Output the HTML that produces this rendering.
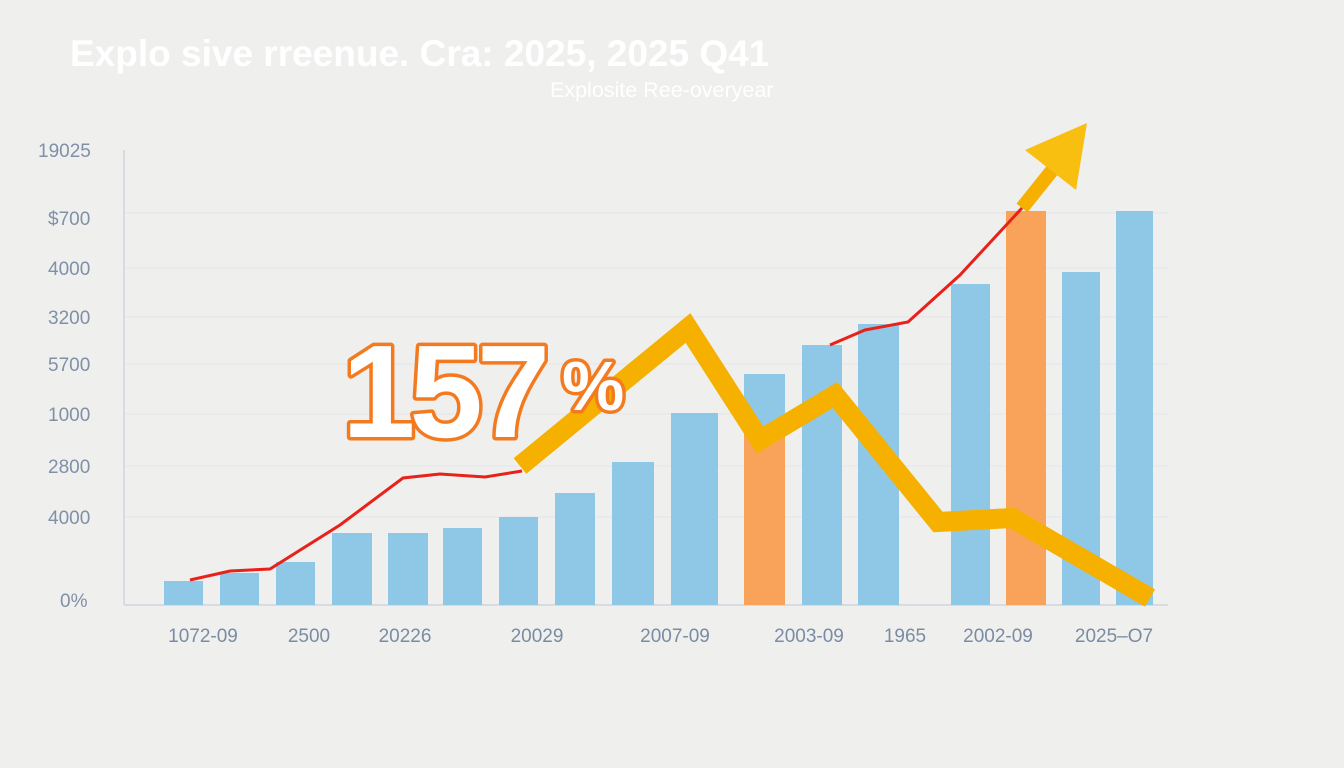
<!DOCTYPE html>
<html><head><meta charset="utf-8"><style>
html,body{margin:0;padding:0;background:#efefee;}
svg{display:block;font-family:"Liberation Sans",sans-serif;}
</style></head><body>
<svg width="1344" height="768" viewBox="0 0 1344 768">
<rect width="1344" height="768" fill="#efefee"/>
<text x="70" y="66" font-size="37" font-weight="bold" fill="#ffffff">Explo sive rreenue. Cra: 2025, 2025 Q41</text>
<text x="550" y="97" font-size="21.5" fill="#ffffff">Explosite Ree-overyear</text>
<g stroke="#e4e6ea" stroke-width="1">
<line x1="124" y1="213" x2="1168" y2="213"/><line x1="124" y1="268" x2="1168" y2="268"/>
<line x1="124" y1="317" x2="1168" y2="317"/><line x1="124" y1="364" x2="1168" y2="364"/>
<line x1="124" y1="414" x2="1168" y2="414"/><line x1="124" y1="466" x2="1168" y2="466"/>
<line x1="124" y1="517" x2="1168" y2="517"/>
</g>
<line x1="124" y1="150" x2="124" y2="605" stroke="#d8dce2" stroke-width="2"/>
<line x1="124" y1="605" x2="1168" y2="605" stroke="#d8dce2" stroke-width="2"/>
<g font-size="19" fill="#7f90a8">
<text x="38" y="157">19025</text><text x="48" y="225">$700</text><text x="48" y="275">4000</text>
<text x="48" y="324">3200</text><text x="48" y="371">5700</text><text x="48" y="421">1000</text>
<text x="48" y="473">2800</text><text x="48" y="524">4000</text><text x="60" y="607">0%</text>
</g>
<g fill="#8fc8e6">
<rect x="164" y="581" width="39" height="24"/><rect x="220" y="573" width="39" height="32"/>
<rect x="276" y="562" width="39" height="43"/><rect x="332" y="533" width="40" height="72"/>
<rect x="388" y="533" width="40" height="72"/><rect x="443" y="528" width="39" height="77"/>
<rect x="499" y="517" width="39" height="88"/><rect x="555" y="493" width="40" height="112"/>
<rect x="612" y="462" width="42" height="143"/><rect x="671" y="413" width="47" height="192"/>
<rect x="744" y="374" width="41" height="231"/><rect x="802" y="345" width="40" height="260"/>
<rect x="858" y="324" width="41" height="281"/><rect x="951" y="284" width="39" height="321"/>
<rect x="1062" y="272" width="38" height="333"/><rect x="1116" y="211" width="37" height="394"/>
</g>
<rect x="744" y="430" width="41" height="175" fill="#f9a35a"/>
<rect x="1006" y="211" width="40" height="394" fill="#f9a35a"/>
<polyline points="190,580 230,571 270,569 340,525 403,478 440,474 485,477 522,471" fill="none" stroke="#e8211a" stroke-width="3"/>
<polyline points="830,345 865,330 908,322 960,275 1022,208" fill="none" stroke="#e8211a" stroke-width="3"/>
<polyline points="520,466 688,328 760,440 835,395 938,522 1012,518 1150,598" fill="none" stroke="#f5b000" stroke-width="20" stroke-linejoin="miter"/>
<line x1="1022" y1="208" x2="1062" y2="158" stroke="#f5b000" stroke-width="14"/>
<polygon points="1087,123 1025,150 1076,190" fill="#f8be10"/>
<g font-size="19" fill="#7a8ca3" text-anchor="middle">
<text x="203" y="642">1072-09</text><text x="309" y="642">2500</text><text x="405" y="642">20226</text>
<text x="537" y="642">20029</text><text x="675" y="642">2007-09</text><text x="809" y="642">2003-09</text>
<text x="905" y="642">1965</text><text x="998" y="642">2002-09</text><text x="1114" y="642">2025–O7</text>
</g>
<g fill="#ffffff" stroke="#f47a20" stroke-width="7" paint-order="stroke" font-weight="bold" stroke-linejoin="round">
<text x="342" y="437" font-size="132" letter-spacing="-6">157</text>
<text x="562" y="410" font-size="70">%</text>
</g>
</svg>
</body></html>
